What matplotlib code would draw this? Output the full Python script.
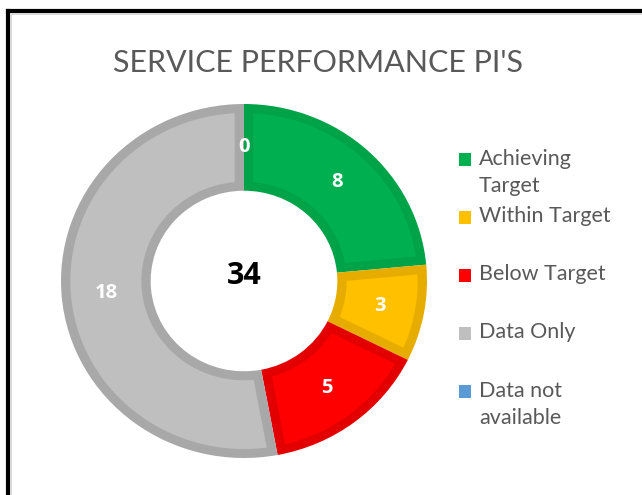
import matplotlib
matplotlib.use("Agg")
import matplotlib.pyplot as plt
from matplotlib.lines import Line2D
from matplotlib.patches import Rectangle, Polygon
import numpy as np

plt.rcParams['font.family'] = ['Lato', 'DejaVu Sans']
BOLD = ['Open Sans', 'DejaVu Sans']

# data
categories = ['Achieving\nTarget', 'Within Target', 'Below Target', 'Data Only', 'Data not\navailable']
values = [8, 3, 5, 18, 0]
fill_colors = ['#00B050', '#FFC000', '#FF0000', '#BFBFBF', '#5B9BD5']
edge_colors = ['#00A347', '#E6AC00', '#E30000', '#A8A8A8', '#4F88C0']
title = "SERVICE PERFORMANCE PI'S"

W, H = 642, 495
fig = plt.figure(figsize=(W / 100, H / 100), dpi=100)

# outer frame (only left and top visible in the crop)
fig.add_artist(Line2D([8 / W, 8 / W], [0, 1 - 11 / H], color='black', lw=3.0))
fig.add_artist(Line2D([8 / W, 1], [1 - 11 / H, 1 - 11 / H], color='black', lw=3.0))
fig.add_artist(Line2D([11 / W, 11 / W], [0, 1 - 14 / H], color='#D9D9D9', lw=1.4))
fig.add_artist(Line2D([11 / W, 1], [1 - 14 / H, 1 - 14 / H], color='#D9D9D9', lw=1.4))

# donut axes (slightly wider than tall, like the source)
cx, cy, rx, ry = 244, 281, 183, 177
ax = fig.add_axes([(cx - rx) / W, (H - cy - ry) / H, 2 * rx / W, 2 * ry / H])
ring = 0.49
# darker colour = the segment border, lighter fill drawn inset on top
wedges, _ = ax.pie(values, colors=edge_colors, startangle=90, counterclock=False,
                   radius=1, wedgeprops=dict(width=ring, linewidth=0))
ax.set_aspect('auto')
ax.set_xlim(-1, 1)
ax.set_ylim(-1, 1)
ax.axis('off')

b = 9.0 / ry  # border width, data units
r_out, r_in = 1 - b, 1 - ring + b
for w, col in zip(wedges, fill_colors):
    t1, t2 = w.theta1, w.theta2
    if t2 - t1 < 1e-6:
        continue
    t1, t2 = np.deg2rad(t1), np.deg2rad(t2)
    ao1, ao2 = t1 + np.arcsin(b / r_out), t2 - np.arcsin(b / r_out)
    ai1, ai2 = t1 + np.arcsin(b / r_in), t2 - np.arcsin(b / r_in)
    if ai2 <= ai1:
        continue
    ta = np.linspace(ao1, ao2, 120)
    tb = np.linspace(ai2, ai1, 120)
    xs = np.concatenate([r_out * np.cos(ta), r_in * np.cos(tb)])
    ys = np.concatenate([r_out * np.sin(ta), r_in * np.sin(tb)])
    ax.add_patch(Polygon(np.column_stack([xs, ys]), closed=True, color=col, lw=0))

# data labels
total = sum(values)
start = 90.0
rmid = 1 - ring / 2
for v in values:
    span = v / total * 360
    mid = np.deg2rad(start - span / 2)
    ax.text(rmid * np.cos(mid), rmid * np.sin(mid), str(v), color='white',
            fontsize=14.5, fontweight='bold', family=BOLD, ha='center', va='center')
    start -= span

ax.text(0, 0.03, str(total), color='black', fontsize=22, fontweight='bold',
        family=BOLD, ha='center', va='center')

# title
fig.text(318 / W, 1 - 63 / H, title, color='#595959', fontsize=22,
         ha='center', va='center')

# legend
baselines = [164.5, 222.5, 280.5, 338.5, 396.5]
pitch = 28
for lab, col, yb in zip(categories, fill_colors, baselines):
    fig.add_artist(Rectangle((459 / W, 1 - (yb + 1) / H), 12 / W, 13 / H,
                             transform=fig.transFigure, color=col, lw=0))
    nl = lab.count('\n')
    fig.text(479 / W, 1 - (yb + pitch * nl) / H, lab, color='#595959', fontsize=15.5,
             ha='left', va='baseline', linespacing=1.45)

fig.savefig('out.png', dpi=100, facecolor='white')
